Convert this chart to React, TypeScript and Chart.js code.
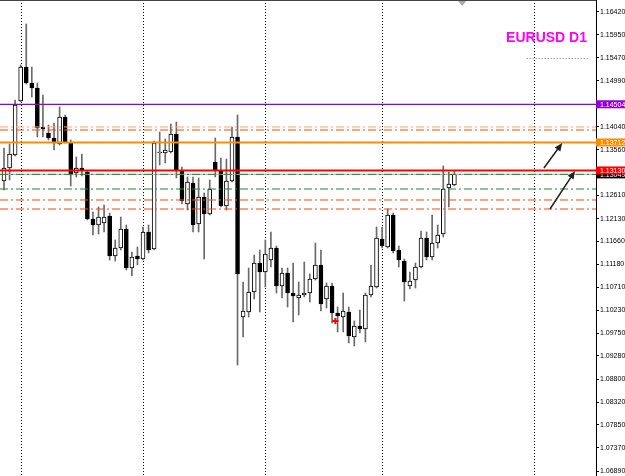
import React, { useEffect, useRef } from 'react';
import { Chart, registerables } from 'chart.js';

Chart.register(...registerables);

// ---- data ----
const chartTitle = 'EURUSD D1';

const opens = [
  1.12911, 1.13181, 1.13451, 1.14572, 1.15278, 1.14946, 1.14842, 1.14033, 1.13908, 1.13804,
  1.1368, 1.1424, 1.137, 1.13078, 1.13181, 1.13098, 1.12123, 1.11998, 1.1204, 1.12185,
  1.11354, 1.11521, 1.11915, 1.11105, 1.11354, 1.11292, 1.11853, 1.115, 1.13493, 1.13493,
  1.13514, 1.13887, 1.13119, 1.12434, 1.1287, 1.12019, 1.12579, 1.12226, 1.13306, 1.13119,
  1.12392, 1.12911, 1.13825, 1.10088, 1.10192, 1.10607, 1.11209, 1.11022, 1.11271, 1.11521,
  1.10732, 1.11002, 1.10586, 1.10483, 1.10545, 1.10586, 1.10877, 1.11168, 1.10462, 1.10732,
  1.10171, 1.10088, 1.10192, 1.09673, 1.09901, 1.09839, 1.10545, 1.10711, 1.11707, 1.11541,
  1.12206, 1.11479, 1.11251, 1.10732, 1.10856, 1.11126, 1.11728, 1.11334, 1.11624, 1.11811,
  1.12766, 1.12828,
];
const highs = [
  1.13597, 1.1368, 1.14593, 1.1532, 1.16171, 1.15278, 1.14946, 1.14697, 1.14074, 1.14116,
  1.14448, 1.14282, 1.13763, 1.1341, 1.13472, 1.13119, 1.12268, 1.12372, 1.12413, 1.12247,
  1.11687, 1.12164, 1.11998, 1.11438, 1.11541, 1.11957, 1.11998, 1.13742, 1.13929, 1.13783,
  1.14095, 1.14136, 1.13202, 1.12995, 1.12995, 1.12974, 1.12662, 1.12932, 1.13804, 1.13389,
  1.13368, 1.14033, 1.14282, 1.10815, 1.11105, 1.11375, 1.11479, 1.11687, 1.11853, 1.11562,
  1.11105, 1.11105, 1.11209, 1.10815, 1.1123, 1.10981, 1.11624, 1.11479, 1.10794, 1.10794,
  1.10296, 1.10586, 1.10296, 1.10005, 1.10233, 1.10586, 1.11168, 1.11957, 1.11957, 1.1233,
  1.12247, 1.11562, 1.11292, 1.11022, 1.11209, 1.11873, 1.11853, 1.12206, 1.11998, 1.13223,
  1.13098, 1.13119,
];
const lows = [
  1.12725, 1.12932, 1.1343, 1.14552, 1.14925, 1.14655, 1.13825, 1.13825, 1.13763, 1.13555,
  1.13659, 1.137, 1.12808, 1.12995, 1.13015, 1.12102, 1.1179, 1.11811, 1.11853, 1.11271,
  1.11251, 1.11479, 1.11064, 1.10939, 1.11168, 1.11271, 1.11417, 1.11479, 1.13244, 1.13285,
  1.13493, 1.12974, 1.12434, 1.12309, 1.11853, 1.11853, 1.11292, 1.12206, 1.12995, 1.12372,
  1.12309, 1.12891, 1.09092, 1.09673, 1.10088, 1.10462, 1.10192, 1.10711, 1.11126, 1.10586,
  1.10483, 1.10296, 1.09984, 1.1013, 1.10503, 1.104, 1.10856, 1.10213, 1.10275, 1.09964,
  1.09777, 1.09777, 1.09548, 1.09486, 1.09756, 1.09569, 1.10503, 1.1069, 1.11521, 1.11521,
  1.11417, 1.11126, 1.1042, 1.10669, 1.1069, 1.11105, 1.11271, 1.11271, 1.11521, 1.11749,
  1.12372, 1.12808,
];
const closes = [
  1.13181, 1.13472, 1.14489, 1.15278, 1.14946, 1.14842, 1.14012, 1.13991, 1.13804, 1.137,
  1.1424, 1.13721, 1.13036, 1.13181, 1.13119, 1.12123, 1.11998, 1.12164, 1.12164, 1.11354,
  1.11521, 1.11915, 1.11105, 1.11334, 1.11292, 1.11853, 1.11479, 1.137, 1.13514, 1.13555,
  1.13887, 1.1314, 1.12496, 1.12891, 1.11998, 1.12579, 1.12226, 1.12745, 1.1314, 1.12392,
  1.12911, 1.13825, 1.10981, 1.10213, 1.10607, 1.11209, 1.11022, 1.11396, 1.11521, 1.10732,
  1.11002, 1.10586, 1.10524, 1.10545, 1.10586, 1.10877, 1.11168, 1.10358, 1.10732, 1.10171,
  1.10109, 1.10213, 1.09694, 1.09901, 1.09839, 1.10545, 1.10732, 1.11728, 1.11562, 1.12206,
  1.11458, 1.11271, 1.10815, 1.10835, 1.11126, 1.11728, 1.11334, 1.11624, 1.1179, 1.12745,
  1.12849, 1.13049,
];

const yTicks = [
  1.1642, 1.1595, 1.1547, 1.1499, 1.1451, 1.1404, 1.1356, 1.1308, 1.1261, 1.1213, 1.1166,
  1.1118, 1.1071, 1.1023, 1.0975, 1.0928, 1.088, 1.0832, 1.0785, 1.0737, 1.0689,
];

// vertical period separators (bar index)
const gridBars = [3, 25, 47, 68, 95.3];

// horizontal level lines
const levelValues = [1.14504, 1.14033, 1.1397, 1.13712, 1.1313, 1.13049, 1.13049, 1.12745, 1.12517, 1.1233];
const levelColors = ['#9400D3', '#FFA07A', '#FF4500', '#FF8C00', '#FF0000', '#A8A8A8', '#228B22', '#228B22', '#FF4500', '#FF4500'];
const levelWidths = [1.3, 1, 1, 2, 2, 1, 1, 1, 1, 1];
const levelDashed = [false, true, true, false, false, false, true, true, true, true];

// price labels on the right axis (drawn in this order)
const tagValues = [1.14504, 1.13712, 1.13049, 1.1313];
const tagColors = ['#9400D3', '#FF8C00', '#000000', '#FF0000'];

// dotted segment
const segStart = 94;
const segEnd = 105;
const segValue = 1.15471;

// arrows
const arrowX1 = [97.1, 98.2];
const arrowY1 = [1.13181, 1.1233];
const arrowX2 = [100.4, 102.7];
const arrowY2 = [1.137, 1.13119];

// trade marker
const markerX = [59.6];
const markerY = [1.10005];

const yMax = 1.16669;
const yMin = 1.06787;
const xMin = -0.72;
const xMax = 106.47;

const overlayPlugin = {
  id: 'overlay',
  beforeDatasetsDraw(chart: any) {
    const { ctx, chartArea, scales } = chart;
    const x = scales.x;
    ctx.save();
    ctx.strokeStyle = '#000';
    ctx.lineWidth = 1;
    ctx.setLineDash([1, 2]);
    gridBars.forEach((b) => {
      const px = Math.round(x.getPixelForValue(b)) + 0.5;
      ctx.beginPath();
      ctx.moveTo(px, chartArea.top);
      ctx.lineTo(px, chartArea.bottom);
      ctx.stroke();
    });
    ctx.restore();
  },
  afterDatasetsDraw(chart: any) {
    const { ctx, chartArea, scales } = chart;
    const x = scales.x;
    const y = scales.y;
    ctx.save();
    ctx.beginPath();
    ctx.rect(chartArea.left, chartArea.top, chartArea.right - chartArea.left, chartArea.bottom - chartArea.top);
    ctx.clip();
    // level lines
    levelValues.forEach((v, i) => {
      const py = y.getPixelForValue(v);
      ctx.strokeStyle = levelColors[i];
      ctx.lineWidth = levelWidths[i];
      ctx.setLineDash(levelDashed[i] ? [8, 3, 2, 3] : []);
      ctx.beginPath();
      ctx.moveTo(chartArea.left, py);
      ctx.lineTo(chartArea.right, py);
      ctx.stroke();
    });
    // dotted segment
    ctx.strokeStyle = '#777';
    ctx.lineWidth = 1;
    ctx.setLineDash([1, 2]);
    const sy = Math.round(y.getPixelForValue(segValue)) + 0.5;
    ctx.beginPath();
    ctx.moveTo(x.getPixelForValue(segStart), sy);
    ctx.lineTo(x.getPixelForValue(segEnd), sy);
    ctx.stroke();
    ctx.setLineDash([]);
    // arrows
    arrowX1.forEach((_, i) => {
      const x1 = x.getPixelForValue(arrowX1[i]);
      const y1 = y.getPixelForValue(arrowY1[i]);
      const x2 = x.getPixelForValue(arrowX2[i]);
      const y2 = y.getPixelForValue(arrowY2[i]);
      const ang = Math.atan2(y2 - y1, x2 - x1);
      ctx.strokeStyle = '#222';
      ctx.fillStyle = '#222';
      ctx.lineWidth = 1.5;
      ctx.beginPath();
      ctx.moveTo(x1, y1);
      ctx.lineTo(x2 - 5 * Math.cos(ang), y2 - 5 * Math.sin(ang));
      ctx.stroke();
      ctx.beginPath();
      ctx.moveTo(x2, y2);
      ctx.lineTo(x2 - 8 * Math.cos(ang) + 3.5 * Math.sin(ang), y2 - 8 * Math.sin(ang) - 3.5 * Math.cos(ang));
      ctx.lineTo(x2 - 8 * Math.cos(ang) - 3.5 * Math.sin(ang), y2 - 8 * Math.sin(ang) + 3.5 * Math.cos(ang));
      ctx.closePath();
      ctx.fill();
    });
    // top frame line
    ctx.strokeStyle = '#444';
    ctx.lineWidth = 1;
    ctx.beginPath();
    ctx.moveTo(chartArea.left, chartArea.top + 0.5);
    ctx.lineTo(chartArea.right, chartArea.top + 0.5);
    ctx.stroke();
    // shift marker
    const tx = x.getPixelForValue(opens.length + 0.4);
    ctx.fillStyle = '#aaa';
    ctx.beginPath();
    ctx.moveTo(tx - 4, chartArea.top + 1);
    ctx.lineTo(tx + 4, chartArea.top + 1);
    ctx.lineTo(tx, chartArea.top + 6);
    ctx.closePath();
    ctx.fill();
    // title
    ctx.fillStyle = '#FF00FF';
    ctx.font = 'bold 14px "Liberation Sans", Arial, sans-serif';
    ctx.textAlign = 'right';
    ctx.textBaseline = 'alphabetic';
    ctx.fillText(chartTitle, chartArea.right - 9, chartArea.top + 42);
    ctx.restore();
  },
  afterDraw(chart: any) {
    const { ctx, chartArea, scales } = chart;
    const y = scales.y;
    ctx.save();
    ctx.font = '7px "Liberation Sans", Arial, sans-serif';
    ctx.textAlign = 'left';
    ctx.textBaseline = 'middle';
    tagValues.forEach((v, i) => {
      const py = y.getPixelForValue(v);
      ctx.fillStyle = tagColors[i];
      ctx.fillRect(chartArea.right, py - 4, chart.width - chartArea.right, 8);
      ctx.fillStyle = '#fff';
      ctx.fillText(v.toFixed(5), chartArea.right + 4, py + 0.5);
    });
    ctx.restore();
  },
};

export default function App() {
  const ref = useRef<HTMLCanvasElement | null>(null);

  useEffect(() => {
    document.body.style.margin = '0';
    const canvas = ref.current;
    if (!canvas) return;
    const bodies = closes.map((c, i) => ({ x: i, y: [opens[i], c] }));
    const wicks = highs.map((h, i) => ({ x: i, y: [lows[i], h] }));
    const bodyFill = closes.map((c, i) => (c >= opens[i] ? '#ffffff' : '#000000'));

    const chart = new Chart(canvas, {
      type: 'bar',
      data: {
        datasets: [
          {
            type: 'scatter',
            data: markerX.map((mx, i) => ({ x: mx, y: markerY[i] })),
            pointStyle: 'cross',
            radius: 3,
            hoverRadius: 3,
            borderColor: '#ff0000',
            borderWidth: 2,
            order: 0,
          } as any,
          {
            data: bodies as any,
            backgroundColor: bodyFill,
            borderColor: '#000',
            borderWidth: 1,
            borderSkipped: false,
            barThickness: 4,
            minBarLength: 1,
            grouped: false,
            order: 1,
          } as any,
          {
            data: wicks as any,
            backgroundColor: '#6a6a6a',
            borderWidth: 0,
            barThickness: 1,
            grouped: false,
            order: 2,
          } as any,
        ],
      },
      options: {
        animation: false,
        responsive: false,
        maintainAspectRatio: false,
        devicePixelRatio: 1,
        layout: { padding: 0, autoPadding: false },
        plugins: { legend: { display: false }, tooltip: { enabled: false }, title: { display: false } },
        scales: {
          x: {
            type: 'linear',
            offset: false,
            min: xMin,
            max: xMax,
            display: false,
            grid: { offset: false },
          },
          y: {
            type: 'linear',
            position: 'right',
            min: yMin,
            max: yMax,
            afterBuildTicks: (s: any) => {
              s.ticks = yTicks.map((v) => ({ value: v }));
            },
            afterFit: (s: any) => {
              s.width = 29;
              s.paddingTop = 0;
              s.paddingBottom = 0;
            },
            grid: { drawOnChartArea: false, drawTicks: true, tickLength: 3, color: '#000' },
            border: { display: true, color: '#000', width: 1 },
            ticks: {
              autoSkip: false,
              padding: 1,
              color: '#000',
              font: { family: '"Liberation Sans", Arial, sans-serif', size: 7 },
              callback: (v: any) => Number(v).toFixed(5),
            },
          },
        },
      } as any,
      plugins: [overlayPlugin],
    });
    return () => chart.destroy();
  }, []);

  return (
    <div style={{ width: 625, height: 476, background: '#fff' }}>
      <canvas ref={ref} width={625} height={476} style={{ display: 'block' }} />
    </div>
  );
}
